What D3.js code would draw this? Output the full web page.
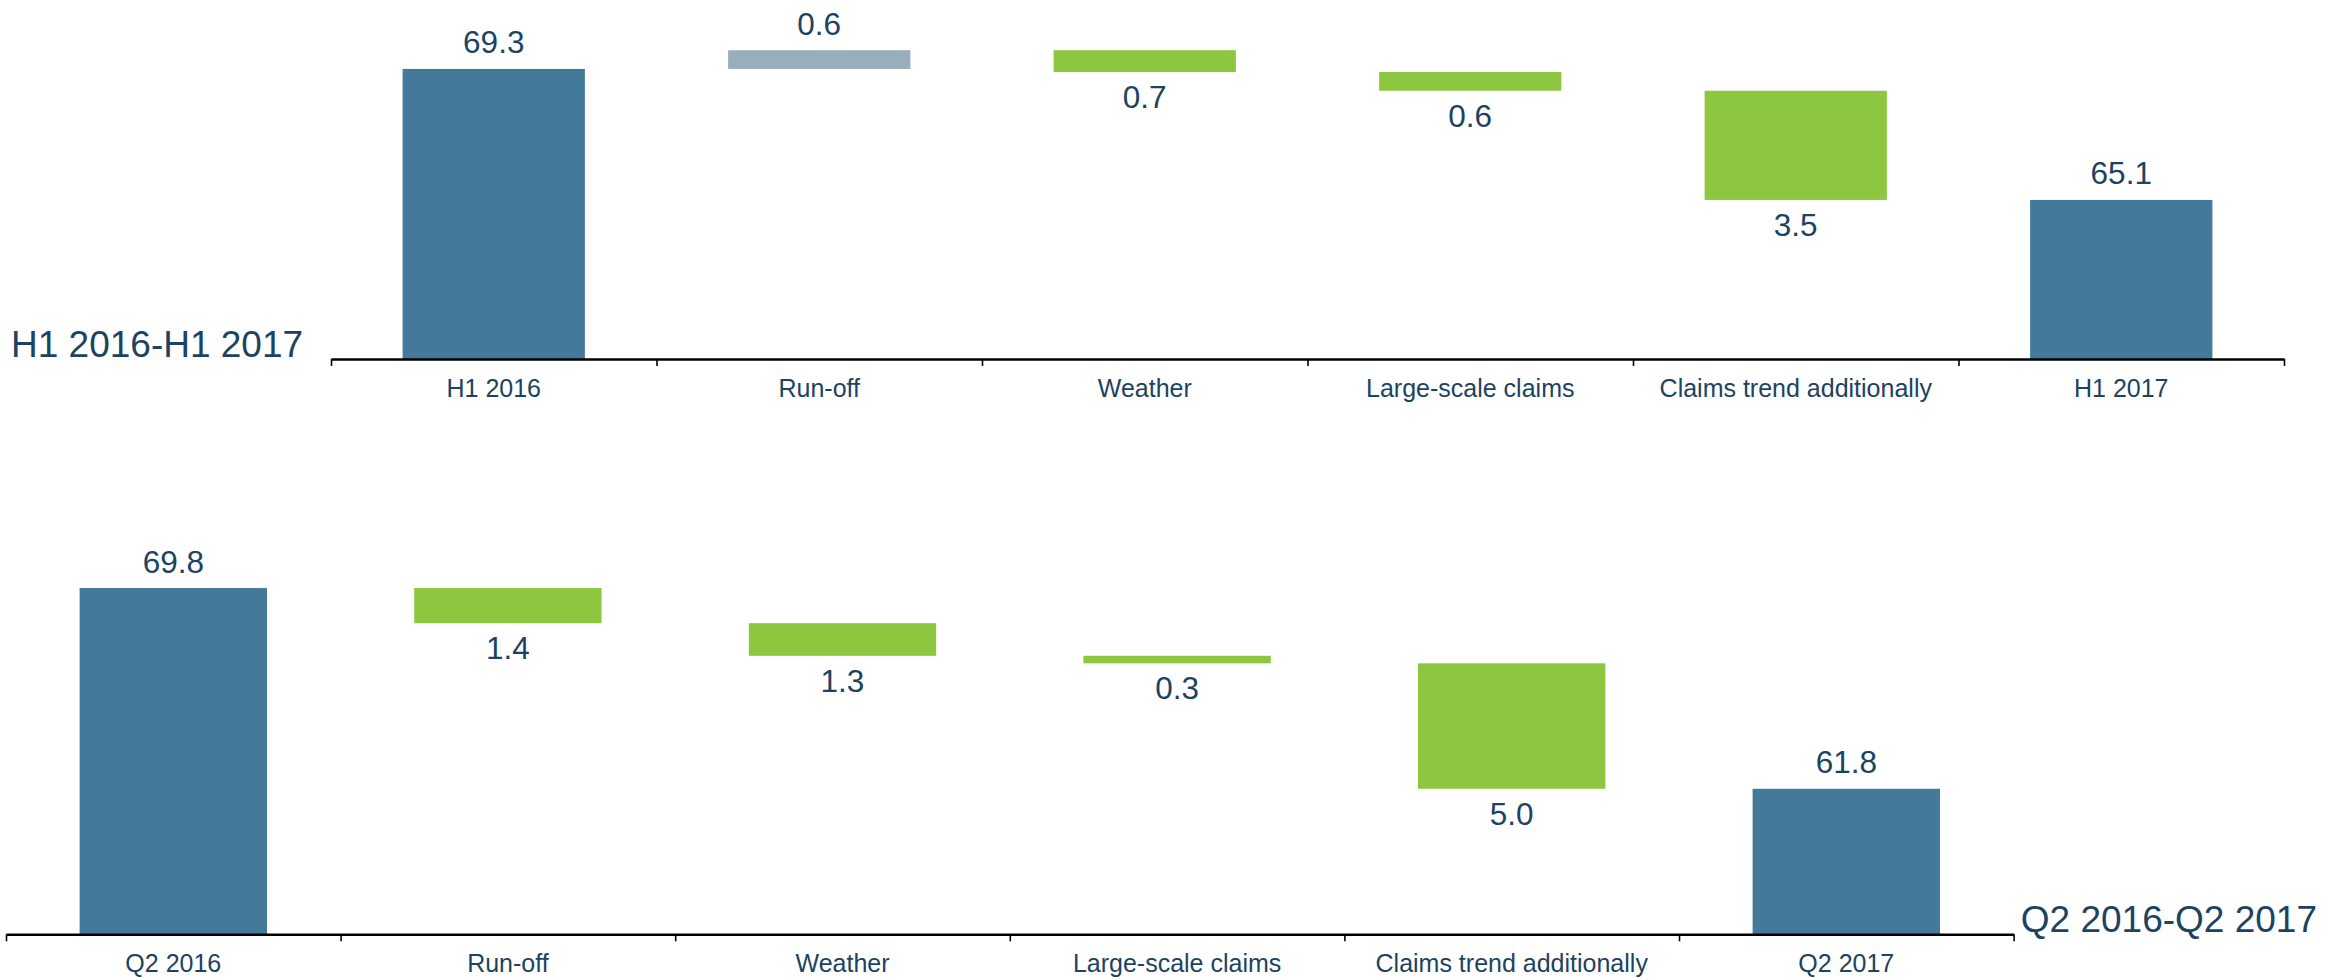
<!DOCTYPE html>
<html>
<head>
<meta charset="utf-8">
<script src="https://cdn.jsdelivr.net/npm/d3@7/dist/d3.min.js"></script>
<style>
  html, body { margin: 0; padding: 0; background: #ffffff; }
  svg { display: block; }
  text { font-family: "Liberation Sans", Arial, Helvetica, sans-serif; fill: #1c4361; }
</style>
</head>
<body>
<svg id="chart" width="2343" height="980"></svg>
<script>
// Combined ratio bridges (in %)
const categoriesH1 = ["H1 2016", "Run-off", "Weather", "Large-scale claims", "Claims trend additionally", "H1 2017"];
const valuesH1 = [69.3, 0.6, -0.7, -0.6, -3.5, 65.1];
const titleH1 = "H1 2016-H1 2017";

const categoriesQ2 = ["Q2 2016", "Run-off", "Weather", "Large-scale claims", "Claims trend additionally", "Q2 2017"];
const valuesQ2 = [69.8, -1.4, -1.3, -0.3, -5.0, 61.8];
const titleQ2 = "Q2 2016-Q2 2017";

const COLORS = { total: "#437a99", up: "#98aebb", down: "#8dc63f" };

const svg = d3.select("#chart");

// Build running start/end values for a waterfall: first and last are totals
function waterfall(categories, values) {
  let running = 0;
  return categories.map((c, i) => {
    const v = values[i];
    const isTotal = i === 0 || i === categories.length - 1;
    let start, end, kind;
    if (isTotal) {
      start = null; end = v; kind = "total"; running = v;
    } else {
      start = running; end = running + v; running = end;
      kind = v >= 0 ? "up" : "down";
    }
    return { cat: c, value: v, start, end, kind };
  });
}

function drawPanel(cfg) {
  const data = waterfall(cfg.categories, cfg.values);
  const g = svg.append("g");

  const x = d3.scaleBand()
    .domain(cfg.categories)
    .range([cfg.x0, cfg.x1])
    .paddingInner(0.44)
    .paddingOuter(0.22);

  const y = d3.scaleLinear()
    .domain([cfg.base, 70])
    .range([cfg.axisY, cfg.axisY - (70 - cfg.base) * cfg.pxPerUnit]);

  // bars
  g.selectAll("rect.bar")
    .data(data)
    .join("rect")
    .attr("class", "bar")
    .attr("x", d => x(d.cat))
    .attr("width", x.bandwidth())
    .attr("y", d => d.kind === "total" ? y(d.end) : y(Math.max(d.start, d.end)))
    .attr("height", d => d.kind === "total"
      ? y(cfg.base) - y(d.end)
      : Math.abs(y(d.start) - y(d.end)))
    .attr("fill", d => COLORS[d.kind]);

  // value labels: above totals and increases, below decreases
  g.selectAll("text.val")
    .data(data)
    .join("text")
    .attr("class", "val")
    .attr("x", d => x(d.cat) + x.bandwidth() / 2)
    .attr("y", d => {
      if (d.kind === "total") return y(d.end) - 15.5;
      const top = y(Math.max(d.start, d.end));
      const bottom = y(Math.min(d.start, d.end));
      return d.kind === "up" ? top - 15.5 : bottom + 36;
    })
    .attr("text-anchor", "middle")
    .style("font-size", "31.5px")
    .text(d => d3.format(".1f")(Math.abs(d.value)));

  // axis line with tick marks at category boundaries
  const edges = d3.scaleLinear().domain([0, cfg.categories.length]).range([cfg.x0, cfg.x1]);
  const edgeAxis = g.append("g")
    .attr("transform", `translate(0,${cfg.axisY})`)
    .call(d3.axisBottom(edges)
      .tickValues(d3.range(cfg.categories.length + 1))
      .tickSize(7)
      .tickSizeOuter(0)
      .tickFormat(""));
  edgeAxis.select(".domain").attr("stroke", "#000").attr("stroke-width", 2.6);
  edgeAxis.selectAll(".tick line").attr("stroke", "#000").attr("stroke-width", 1.6);

  // category labels
  const catAxis = g.append("g")
    .attr("transform", `translate(0,${cfg.axisY})`)
    .call(d3.axisBottom(x).tickSize(0).tickPadding(14));
  catAxis.select(".domain").remove();
  catAxis.selectAll(".tick text")
    .attr("dy", null)
    .attr("y", 37.5)
    .style("font-size", "25px")
    .style("font-family", "\"Liberation Sans\", Arial, sans-serif")
    .attr("fill", "#1c4361");

  // panel title
  g.append("text")
    .attr("x", cfg.titleX)
    .attr("y", cfg.titleY)
    .attr("text-anchor", cfg.titleAnchor)
    .style("font-size", "37px")
    .text(cfg.title);
}

drawPanel({
  categories: categoriesH1, values: valuesH1, title: titleH1,
  x0: 331, x1: 2284, axisY: 359, base: 60, pxPerUnit: 31.19,
  titleX: 11, titleY: 356.5, titleAnchor: "start"
});

drawPanel({
  categories: categoriesQ2, values: valuesQ2, title: titleQ2,
  x0: 6, x1: 2013.6, axisY: 934.3, base: 56, pxPerUnit: 25.09,
  titleX: 2317, titleY: 932, titleAnchor: "end"
});
</script>
</body>
</html>
